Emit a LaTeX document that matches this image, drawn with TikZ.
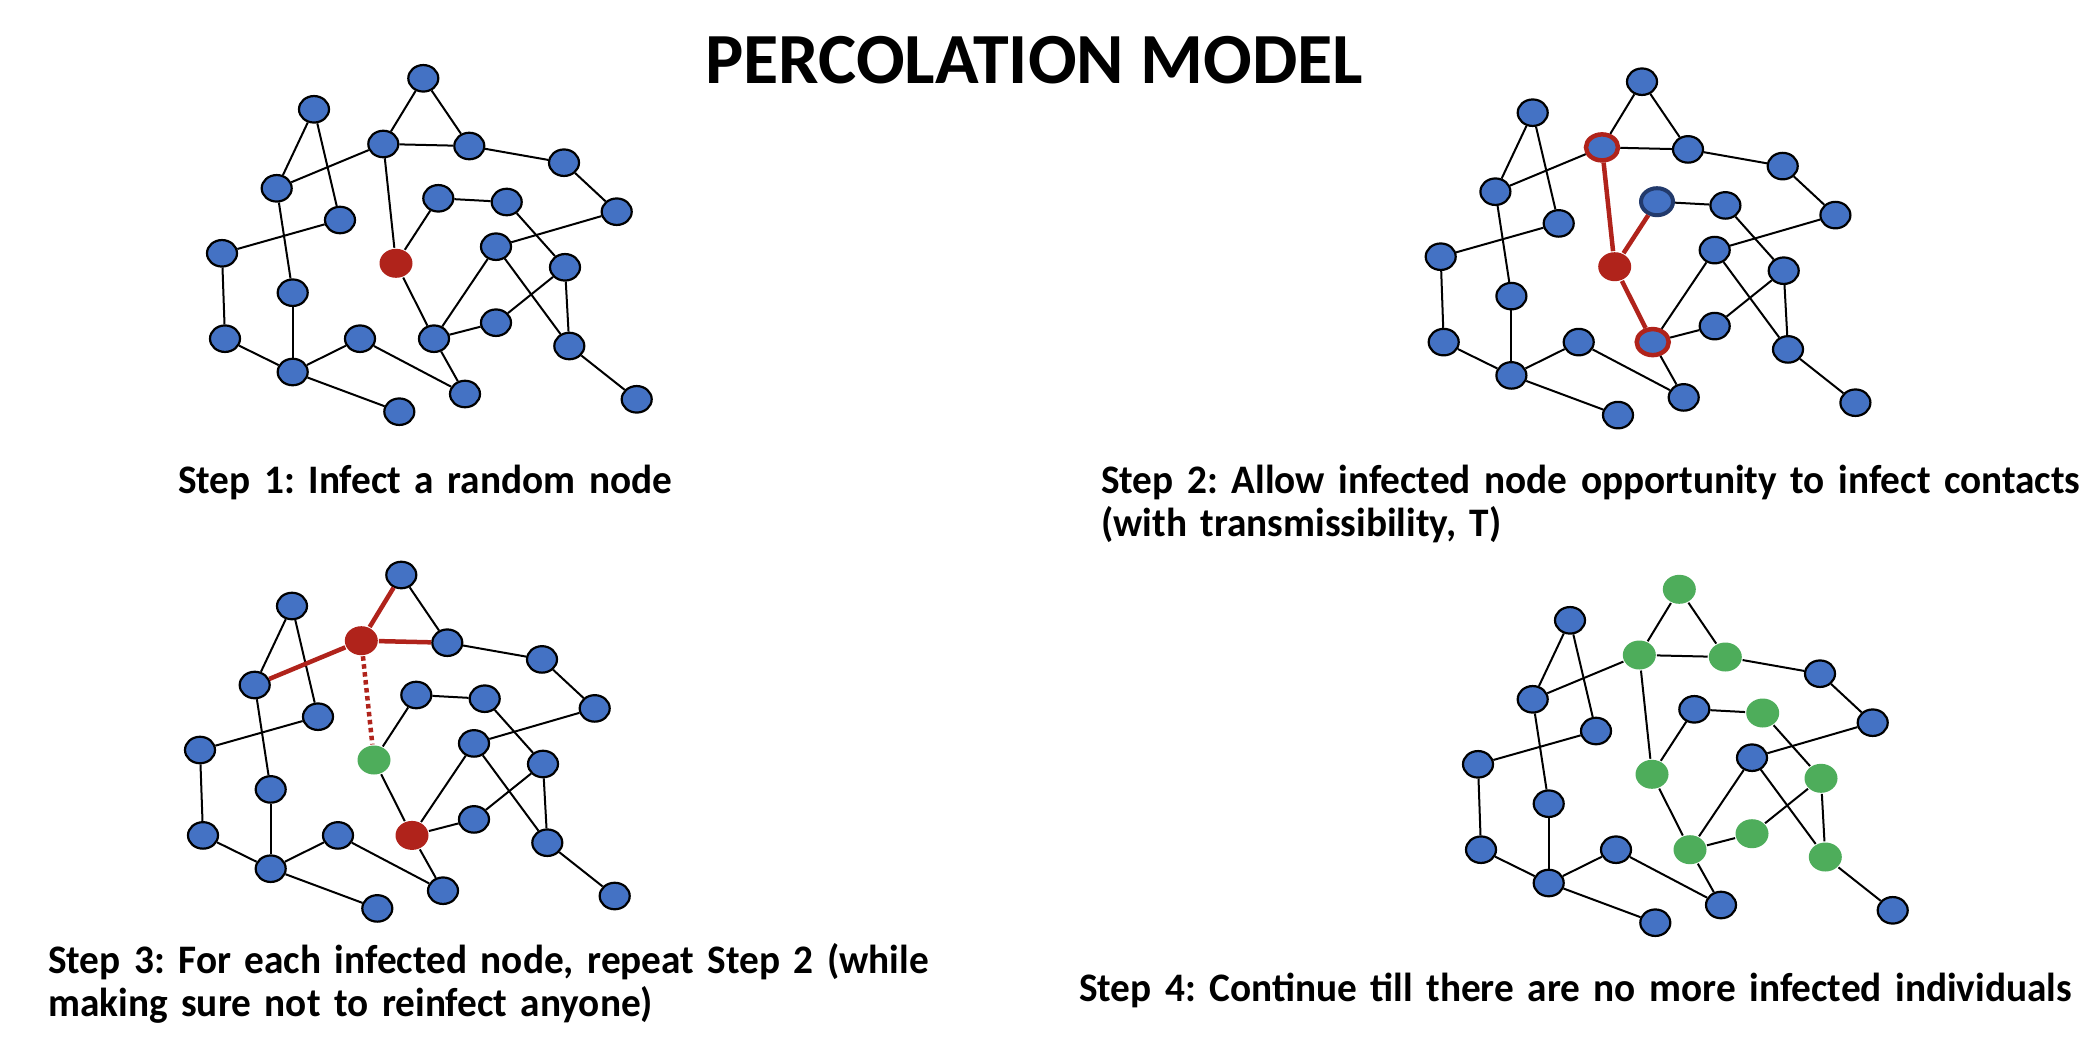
\documentclass[tikz,border=0pt]{standalone}
\usepackage{fontspec}
\setmainfont{Carlito}
\newfontfamily\stepfam[FakeStretch=0.97]{Carlito}
\usetikzlibrary{shapes.geometric}
\definecolor{nodeblue}{HTML}{4472C4}
\definecolor{infred}{HTML}{B0231B}
\definecolor{recgreen}{HTML}{4EAD5B}
\definecolor{ringnavy}{HTML}{223A6C}
\newcommand\stepfont{\stepfam\bfseries\fontsize{40.5}{43}\selectfont}
\newcommand\headfont{\bfseries\fontsize{72}{80}\selectfont}
\frenchspacing
\hyphenpenalty=10000
\tikzset{
  nd/.style={ellipse, draw=black, line width=2.2pt, fill=nodeblue,
    minimum width=30pt, minimum height=26.5pt, inner sep=0pt},
  infected/.style={draw=none, fill=infred, minimum width=33pt, minimum height=29pt},
  recovered/.style={draw=none, fill=recgreen, minimum width=33pt, minimum height=29pt},
  redring/.style={draw=infred, line width=4.5pt, minimum width=32pt, minimum height=26pt},
  navyring/.style={draw=ringnavy, line width=4pt, minimum width=32pt, minimum height=27pt},
  link/.style={draw=black, line width=2pt},
  hot/.style={draw=infred, line width=4.5pt},
  trial/.style={draw=infred, line width=4.5pt, dash pattern=on 4.5pt off 3.5pt},
  steptext/.style={anchor=base west, inner sep=0pt, align=left, text width=1150pt,
    font=\stepfont},
  titletext/.style={anchor=base, inner sep=0pt, font=\headfont}
}
\newcommand\netnodes[1]{%
  \foreach \n/\x/\y in {A/423.3/78.3, B/314/109.3, C/383.3/144, D/469.3/146,
    E/564/162.7, F/276.7/188.3, G/438.3/198.3, H/506.7/202, I/616.7/211.7,
    J/340/220, K/222/253.3, L/396/263.3, M/496/246.7, N/565/267.3,
    O/292.7/292.7, P/496/322.7, Q/225/338.7, R/360/338.7, S/434/338.7,
    T/569.3/346, U/292.7/372, V/465/394, W/399.3/411.7, X/636.7/399.3}
  {\node[nd, #1\n/.try] (#1\n) at (\x,\y) {};}}
\newcommand\netedges[1]{%
  \foreach \u/\v in {A/C, A/D, B/F, B/J, C/F, C/D, C/L, D/E, E/I, F/O, G/L,
    G/H, H/N, I/M, J/K, K/Q, L/S, M/S, M/T, N/P, N/T, O/U, P/S, Q/U, R/U,
    R/V, S/V, T/X, U/W}
  {\draw[link, #1\u\v/.try] (#1\u) -- (#1\v);}}
\begin{document}
\begin{tikzpicture}[x=1pt, y=-1pt]
  \path[fill=white, use as bounding box] (0,0) rectangle (2098,1036);

  \node[titletext] (title) at (1034,83) {PERCOLATION MODEL};

  % Step 1
  \begin{scope}[aL/.style={infected}]
    \netnodes{a}
    \netedges{a}
  \end{scope}
  \node[steptext] (cap1) at (178,493) {Step 1: Infect a random node};

  % Step 2
  \begin{scope}[shift={(1218.7,3.4)},
      bC/.style={redring}, bS/.style={redring}, bG/.style={navyring}, bL/.style={infected},
      bCL/.style={hot}, bGL/.style={hot}, bLS/.style={hot}]
    \netnodes{b}
    \netedges{b}
  \end{scope}
  \node[steptext] (cap2) at (1101,493)
    {Step 2: Allow infected node opportunity to infect contacts\\(with transmissibility, T)};

  % Step 3
  \begin{scope}[shift={(-22,496.7)},
      cC/.style={infected}, cS/.style={infected}, cL/.style={recovered},
      cAC/.style={hot}, cCF/.style={hot}, cCD/.style={hot}, cCL/.style={trial}]
    \netnodes{c}
    \netedges{c}
  \end{scope}
  \node[steptext] (cap3) at (48,973)
    {Step 3: For each infected node, repeat Step 2 (while\\making sure not to reinfect anyone)};

  % Step 4
  \begin{scope}[shift={(1256,511)},
      dA/.style={recovered}, dC/.style={recovered}, dD/.style={recovered},
      dH/.style={recovered}, dL/.style={recovered}, dN/.style={recovered},
      dP/.style={recovered}, dS/.style={recovered}, dT/.style={recovered}]
    \netnodes{d}
    \netedges{d}
  \end{scope}
  \node[steptext] (cap4) at (1079,1001)
    {Step 4: Continue till there are no more infected individuals};
\end{tikzpicture}
\end{document}
